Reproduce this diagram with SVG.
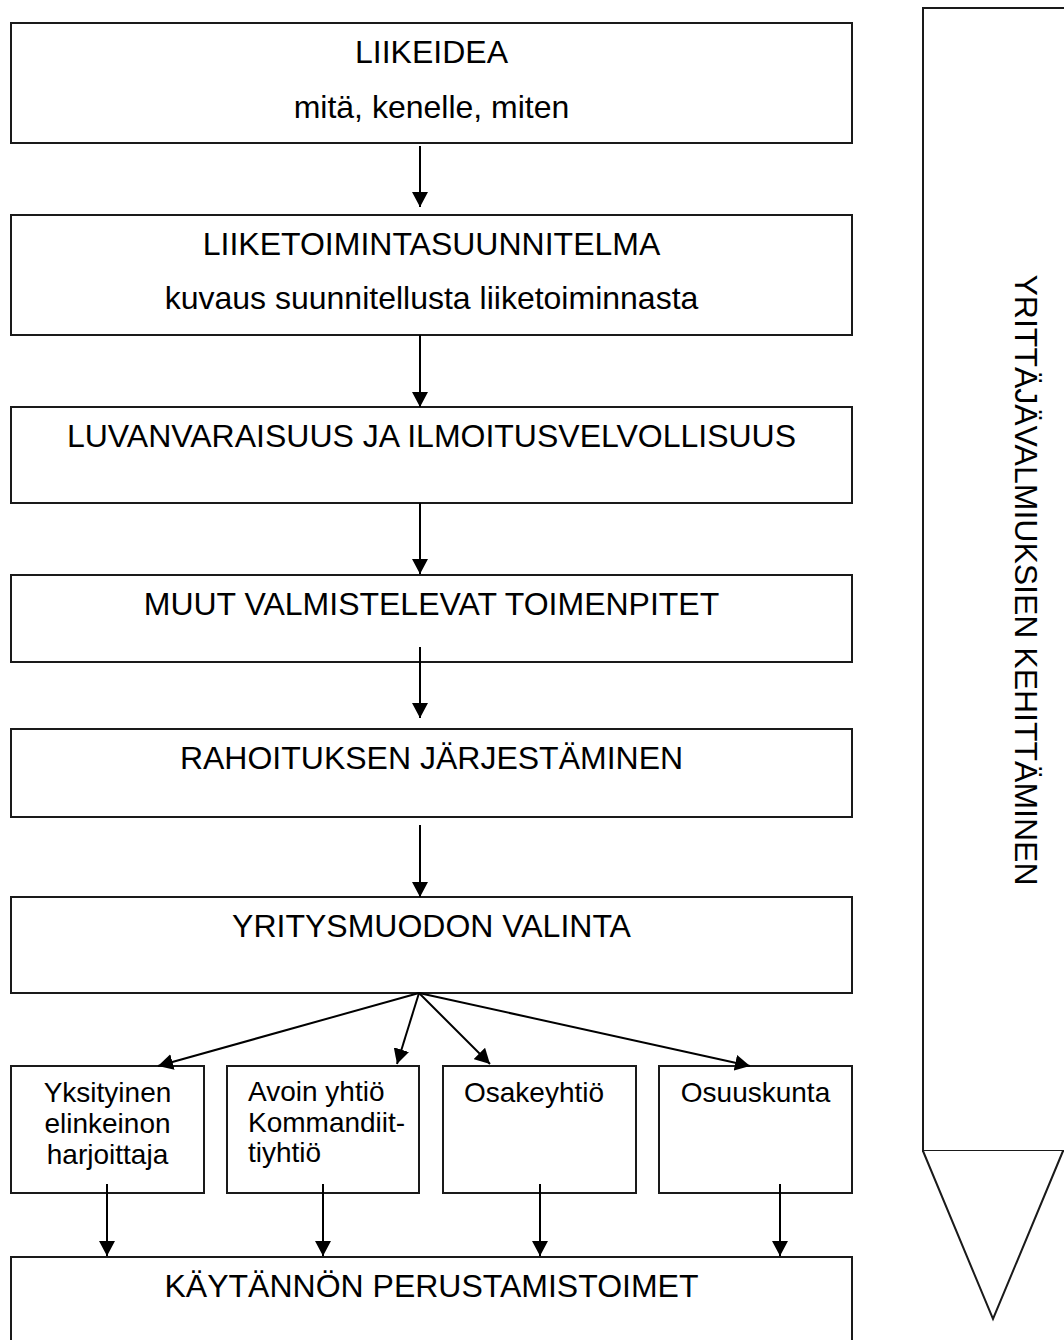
<svg xmlns="http://www.w3.org/2000/svg" width="1064" height="1340" viewBox="0 0 1064 1340">
  <style>
    .box { fill: #ffffff; stroke: #1a1a1a; stroke-width: 2; }
    .lbl { font-family: "Liberation Sans", Arial, sans-serif; font-size: 32px; fill: #000000; text-anchor: middle; }
    .sub { font-family: "Liberation Sans", Arial, sans-serif; font-size: 28px; fill: #000000; }
    .mid { text-anchor: middle; }
    .conn { stroke: #000000; stroke-width: 2; fill: none; marker-end: url(#arrow); }
  </style>
  <defs>
    <marker id="arrow" markerUnits="userSpaceOnUse" markerWidth="16" markerHeight="16" viewBox="0 0 16 16" refX="15" refY="8" orient="auto">
      <path d="M0,0 L15,8 L0,16 Z" fill="#000000"/>
    </marker>
  </defs>

  <rect width="1064" height="1340" fill="#ffffff"/>

  <!-- side banner: arrow-shaped strip pointing down -->
  <g id="side-banner">
    <path class="box" d="M1066,8 H923 V1151 H1066"/>
    <path class="box" d="M923,1151 L993,1319 L1063,1151" fill="none"/>
    <text class="lbl" transform="translate(1015,580) rotate(90)">YRITTÄJÄVALMIUKSIEN KEHITTÄMINEN</text>
  </g>

  <g id="liikeidea">
    <rect class="box" x="11" y="23" width="841" height="120"/>
    <text class="lbl" x="431.5" y="63">LIIKEIDEA</text>
    <text class="lbl" x="431.5" y="118">mitä, kenelle, miten</text>
  </g>

  <g id="liiketoimintasuunnitelma">
    <rect class="box" x="11" y="215" width="841" height="120"/>
    <text class="lbl" x="431.5" y="255">LIIKETOIMINTASUUNNITELMA</text>
    <text class="lbl" x="431.5" y="309">kuvaus suunnitellusta liiketoiminnasta</text>
  </g>

  <g id="luvanvaraisuus">
    <rect class="box" x="11" y="407" width="841" height="96"/>
    <text class="lbl" x="431.5" y="447">LUVANVARAISUUS JA ILMOITUSVELVOLLISUUS</text>
  </g>

  <g id="muut-toimenpiteet">
    <rect class="box" x="11" y="575" width="841" height="87"/>
    <text class="lbl" x="431.5" y="615">MUUT VALMISTELEVAT TOIMENPITET</text>
  </g>

  <g id="rahoitus">
    <rect class="box" x="11" y="729" width="841" height="88"/>
    <text class="lbl" x="431.5" y="769">RAHOITUKSEN JÄRJESTÄMINEN</text>
  </g>

  <g id="yritysmuoto">
    <rect class="box" x="11" y="897" width="841" height="96"/>
    <text class="lbl" x="431.5" y="937">YRITYSMUODON VALINTA</text>
  </g>

  <g id="toiminimi">
    <rect class="box" x="11" y="1066" width="193" height="127"/>
    <text class="sub mid" x="107.5" y="1102">Yksityinen</text>
    <text class="sub mid" x="107.5" y="1133">elinkeinon</text>
    <text class="sub mid" x="107.5" y="1164">harjoittaja</text>
  </g>

  <g id="avoin-kommandiitti">
    <rect class="box" x="227" y="1066" width="192" height="127"/>
    <text class="sub" x="248" y="1101">Avoin yhtiö</text>
    <text class="sub" x="248" y="1132">Kommandiit-</text>
    <text class="sub" x="248" y="1162">tiyhtiö</text>
  </g>

  <g id="osakeyhtio">
    <rect class="box" x="443" y="1066" width="193" height="127"/>
    <text class="sub" x="464" y="1102">Osakeyhtiö</text>
  </g>

  <g id="osuuskunta">
    <rect class="box" x="659" y="1066" width="193" height="127"/>
    <text class="sub mid" x="755.5" y="1102">Osuuskunta</text>
  </g>

  <g id="perustamistoimet">
    <rect class="box" x="11" y="1257" width="841" height="90"/>
    <text class="lbl" x="431.5" y="1297">KÄYTÄNNÖN PERUSTAMISTOIMET</text>
  </g>

  <g id="connectors">
    <line class="conn" x1="420" y1="146" x2="420" y2="207"/>
    <line class="conn" x1="420" y1="335" x2="420" y2="407"/>
    <line class="conn" x1="420" y1="503" x2="420" y2="574"/>
    <line class="conn" x1="420" y1="647" x2="420" y2="718"/>
    <line class="conn" x1="420" y1="825" x2="420" y2="897"/>

    <line class="conn" x1="419" y1="993" x2="158" y2="1066"/>
    <line class="conn" x1="419" y1="993" x2="397" y2="1064"/>
    <line class="conn" x1="419" y1="993" x2="490" y2="1064"/>
    <line class="conn" x1="419" y1="993" x2="750" y2="1066"/>

    <line class="conn" x1="107" y1="1184" x2="107" y2="1256"/>
    <line class="conn" x1="323" y1="1184" x2="323" y2="1256"/>
    <line class="conn" x1="540" y1="1184" x2="540" y2="1256"/>
    <line class="conn" x1="780" y1="1184" x2="780" y2="1256"/>
  </g>
</svg>
